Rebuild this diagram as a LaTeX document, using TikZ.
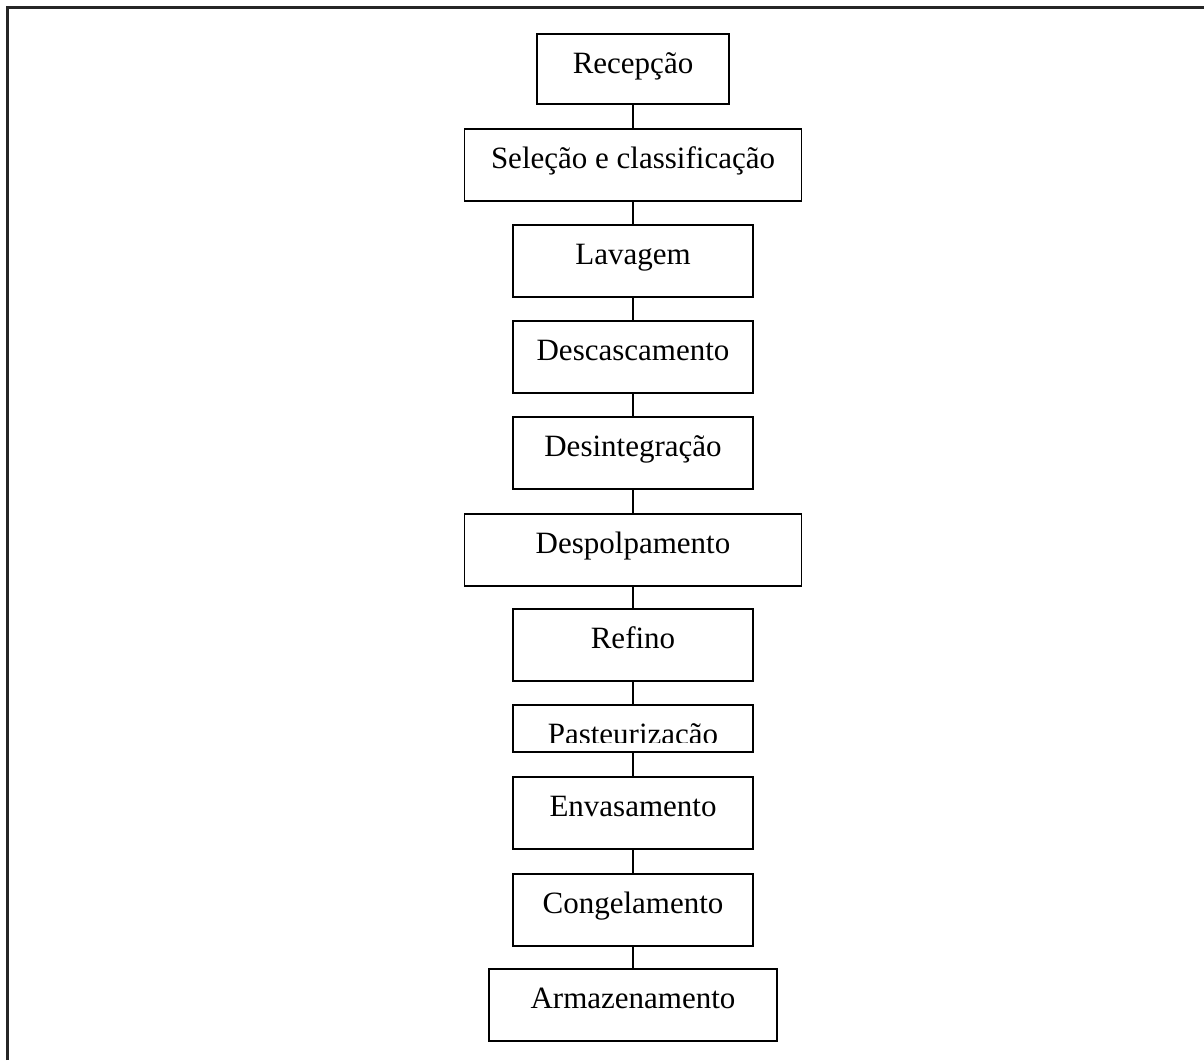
\documentclass[tikz,border=0pt]{standalone}
\usepackage{fontspec}
\setmainfont{Liberation Serif}
\newcommand{\stepfont}{\fontsize{31}{36}\selectfont}
\begin{document}
\begin{tikzpicture}[x=1pt,y=-1pt,
  stepbox/.style={draw, rectangle, line width=1.6pt, inner sep=0pt, anchor=north,
    text height=40pt, text depth=32pt, minimum width=240pt, font=\stepfont},
  link/.style={draw, line width=1.6pt}]
\useasboundingbox (0,0) rectangle (1204,1060);
\draw[line width=2.2pt, black!85] (7.5,1060) -- (7.5,7.5) -- (1204,7.5);
\node[stepbox, minimum width=192pt, text depth=30pt] (1) at (633,33) {Recepção};
\node[stepbox, minimum width=337pt] (2) at (633,128) {Seleção e classificação};
\node[stepbox] (3) at (633,224) {Lavagem};
\node[stepbox] (4) at (633,320) {Descascamento};
\node[stepbox] (5) at (633,416) {Desintegração};
\node[stepbox, minimum width=337pt] (6) at (633,513) {Despolpamento};
\node[stepbox] (7) at (633,608) {Refino};
\node[stepbox, text depth=7pt,
  path picture={
    \clip ([yshift=9pt]path picture bounding box.south west) rectangle (path picture bounding box.north east);
    \node[anchor=base, font=\stepfont] at ([yshift=-40pt]path picture bounding box.north) {Pasteurização};
  }] (8) at (633,704) {};
\node[stepbox] (9) at (633,776) {Envasamento};
\node[stepbox] (10) at (633,873) {Congelamento};
\node[stepbox, minimum width=288pt] (11) at (633,968) {Armazenamento};
\path[link] (1) -- (2);
\path[link] (2) -- (3);
\path[link] (3) -- (4);
\path[link] (4) -- (5);
\path[link] (5) -- (6);
\path[link] (6) -- (7);
\path[link] (7) -- (8);
\path[link] (8) -- (9);
\path[link] (9) -- (10);
\path[link] (10) -- (11);
\end{tikzpicture}
\end{document}
